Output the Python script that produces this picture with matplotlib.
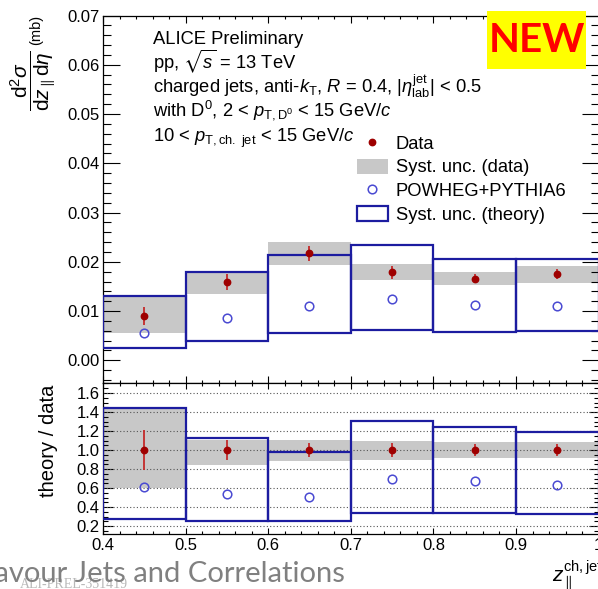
import matplotlib
matplotlib.use("Agg")
import matplotlib.pyplot as plt
from matplotlib.patches import Rectangle, Patch
from matplotlib.lines import Line2D
from matplotlib.ticker import MultipleLocator, FuncFormatter
import numpy as np

plt.rcParams["font.family"] = ["Liberation Sans", "DejaVu Sans"]
plt.rcParams["mathtext.fontset"] = "custom"
plt.rcParams["mathtext.rm"] = "Liberation Sans"
plt.rcParams["mathtext.it"] = "Liberation Sans:italic"
plt.rcParams["mathtext.bf"] = "Liberation Sans:bold"
plt.rcParams["mathtext.fallback"] = "stixsans"

# ---- z_parallel binning ----
bin_edges = [0.4, 0.5, 0.6, 0.7, 0.8, 0.9, 1.0]
x_tick_labels = ["0.4", "0.5", "0.6", "0.7", "0.8", "0.9", "1"]

# ---- cross section (mb) ----
data_val = [0.0090, 0.0159, 0.0217, 0.0179, 0.0166, 0.0175]
data_stat = [0.0019, 0.0016, 0.0015, 0.0013, 0.0010, 0.0010]
data_syst_lo = [0.0055, 0.0134, 0.0193, 0.0163, 0.0153, 0.0157]
data_syst_hi = [0.0132, 0.0180, 0.0241, 0.0195, 0.0179, 0.0192]
theory_val = [0.0056, 0.0085, 0.0110, 0.0124, 0.0112, 0.0110]
theory_syst_lo = [0.0026, 0.0040, 0.0056, 0.0061, 0.0057, 0.0059]
theory_syst_hi = [0.0131, 0.0180, 0.0214, 0.0234, 0.0206, 0.0205]

# ---- theory / data ----
ratio_data = [1.0, 1.0, 1.0, 1.0, 1.0, 1.0]
ratio_stat = [0.21, 0.105, 0.07, 0.07, 0.065, 0.06]
ratio_syst_lo = [0.60, 0.84, 0.89, 0.90, 0.915, 0.915]
ratio_syst_hi = [1.43, 1.11, 1.11, 1.10, 1.08, 1.085]
ratio_theory = [0.614, 0.537, 0.51, 0.695, 0.674, 0.63]
ratio_theory_lo = [0.277, 0.256, 0.258, 0.343, 0.343, 0.33]
ratio_theory_hi = [1.44, 1.126, 0.98, 1.31, 1.24, 1.185]
ratio_grid = [0.2, 0.4, 0.6, 0.8, 1.0, 1.2, 1.4, 1.6]

edges = np.array(bin_edges)
centers = 0.5 * (edges[:-1] + edges[1:])
widths = np.diff(edges)

C_DATA = "#9e0000"
C_DATA_ERR = "#c42a2a"
C_SYST = "#c8c8c8"
C_BOX = "#1c1ca0"
C_THEORY = "#4a4ad2"

W, H = 598, 589
fig = plt.figure(figsize=(W / 100, H / 100), dpi=100)


def fx(px):
    return px / W


def fy(py):
    return 1 - py / H


x_left, x_right = 103, 598.6
ax_top = fig.add_axes([fx(x_left), fy(383), fx(x_right) - fx(x_left), fy(15.5) - fy(383)])
ax_bot = fig.add_axes([fx(x_left), fy(534.3), fx(x_right) - fx(x_left), fy(383) - fy(534.3)])


def draw_panel(ax, val, stat, s_lo, s_hi, th, th_lo, th_hi):
    s_lo, s_hi = np.array(s_lo), np.array(s_hi)
    th_lo, th_hi = np.array(th_lo), np.array(th_hi)
    ax.bar(centers, s_hi - s_lo, bottom=s_lo, width=widths, color=C_SYST,
           linewidth=0, zorder=1)
    ax.bar(centers, th_hi - th_lo, bottom=th_lo, width=widths, fill=False,
           edgecolor=C_BOX, linewidth=1.6, zorder=3)
    ax.errorbar(centers, val, yerr=stat, fmt="o", color=C_DATA, ecolor=C_DATA_ERR,
                ms=4.6, elinewidth=1.3, capsize=0, zorder=5)
    ax.plot(centers, th, "o", mfc="none", mec=C_THEORY, ms=6.2, mew=1.1, zorder=4)


draw_panel(ax_top, data_val, data_stat, data_syst_lo, data_syst_hi,
           theory_val, theory_syst_lo, theory_syst_hi)
draw_panel(ax_bot, ratio_data, ratio_stat, ratio_syst_lo, ratio_syst_hi,
           ratio_theory, ratio_theory_lo, ratio_theory_hi)

for g in ratio_grid:
    ax_bot.axhline(g, color="#555555", lw=0.8, ls=(0, (1, 2)), zorder=2)

ax_top.set_xlim(bin_edges[0], bin_edges[-1])
ax_bot.set_xlim(bin_edges[0], bin_edges[-1])
ax_top.set_ylim(-0.0046, 0.07)
ax_bot.set_ylim(0.115, 1.705)

for ax in (ax_top, ax_bot):
    ax.xaxis.set_major_locator(MultipleLocator(0.1))
    ax.xaxis.set_minor_locator(MultipleLocator(0.02))
    for s in ax.spines.values():
        s.set_linewidth(0.9)
    ax.tick_params(which="both", direction="in", top=True, right=True,
                   width=0.8, labelsize=12, pad=2.5)

ax_top.yaxis.set_major_locator(MultipleLocator(0.01))
ax_top.yaxis.set_minor_locator(MultipleLocator(0.002))
ax_top.yaxis.set_major_formatter(FuncFormatter(lambda v, p: f"{v:.2f}"))
ax_top.tick_params(axis="y", which="major", length=12.2)
ax_top.tick_params(axis="y", which="minor", length=5.8)
ax_top.tick_params(axis="x", which="major", length=5)
ax_top.tick_params(axis="x", which="minor", length=2.5)
ax_top.tick_params(axis="x", labelbottom=False)

ax_bot.yaxis.set_major_locator(MultipleLocator(0.2))
ax_bot.yaxis.set_minor_locator(MultipleLocator(0.05))
ax_bot.yaxis.set_major_formatter(FuncFormatter(lambda v, p: f"{v:.1f}"))
ax_bot.set_xticks(bin_edges)
ax_bot.set_xticklabels(x_tick_labels)
ax_bot.tick_params(axis="y", which="major", length=7.2)
ax_bot.tick_params(axis="y", which="minor", length=3.6)
ax_bot.tick_params(axis="x", which="major", length=4.5)
ax_bot.tick_params(axis="x", which="minor", length=2.3)

# axis titles
fig.text(fx(33), fy(81),
         r"$\dfrac{\mathrm{d}^{2}\sigma}{\mathrm{d}z_{\parallel}\mathrm{d}\eta}$",
         rotation=90, ha="center", va="center", fontsize=15)
fig.text(fx(36), fy(30), "(mb)", rotation=90, ha="center", va="center", fontsize=10.5)
fig.text(fx(49), fy(441), "theory / data", rotation=90, ha="center", va="center",
         fontsize=14.5)
fig.text(fx(552), fy(576), r"$z_{\parallel}^{\mathrm{ch,jet}}$", ha="left",
         va="center", fontsize=15)

# labels in the upper panel
tx = fx(153)
fs = 13.2
fig.text(tx, fy(44.3), "ALICE Preliminary", ha="left", va="baseline", fontsize=fs)
fig.text(tx, fy(68.3), r"pp, $\sqrt{s}$ = 13 TeV", ha="left", va="baseline", fontsize=fs)
fig.text(tx, fy(92.5), r"charged jets, anti-$k_{\mathrm{T}}$, $R$ = 0.4, "
         r"$|\eta_{\mathrm{lab}}^{\mathrm{jet}}|$ < 0.5", ha="left", va="baseline", fontsize=fs)
fig.text(tx, fy(115.5), r"with D$^{0}$, 2 < $p_{\mathrm{T,D^{0}}}$ < 15 GeV/$c$",
         ha="left", va="baseline", fontsize=fs)
fig.text(tx, fy(141.7), r"10 < $p_{\mathrm{T,ch.\ jet}}$ < 15 GeV/$c$",
         ha="left", va="baseline", fontsize=fs)

handles = [
    Line2D([], [], marker="o", ls="none", color=C_DATA, ms=4.6),
    Patch(facecolor=C_SYST, edgecolor="none"),
    Line2D([], [], marker="o", ls="none", mfc="none", mec=C_THEORY, ms=6.2, mew=1.1),
    Patch(facecolor="white", edgecolor=C_BOX, linewidth=1.6),
]
labels = ["Data", "Syst. unc. (data)", "POWHEG+PYTHIA6", "Syst. unc. (theory)"]
fig.legend(handles, labels, loc="upper left", bbox_to_anchor=(fx(357), fy(135)),
           frameon=False, fontsize=fs, handlelength=1.68, handleheight=0.86,
           handletextpad=0.43, labelspacing=0.33, borderpad=0, borderaxespad=0)

# NEW badge
fig.patches.append(Rectangle((fx(487), fy(69)), fx(586) - fx(487), fy(11) - fy(69),
                             transform=fig.transFigure, facecolor="#ffff00",
                             edgecolor="none", zorder=10))
fig.text(fx(537), fy(40), "NEW", ha="center", va="center", fontsize=29,
         color="#ff0000", fontweight="bold", family="Lato", zorder=11)

# slide footer
fig.text(fx(20), fy(584), "ALI-PREL-351419", ha="left", va="center", fontsize=10,
         color="#b8b8b8", family="Liberation Serif", zorder=1)
fig.text(fx(345), fy(574), "Flavour Jets and Correlations", ha="right", va="center",
         fontsize=21, color="#808080", family="Lato", zorder=2)

fig.savefig("out.png", dpi=100)
